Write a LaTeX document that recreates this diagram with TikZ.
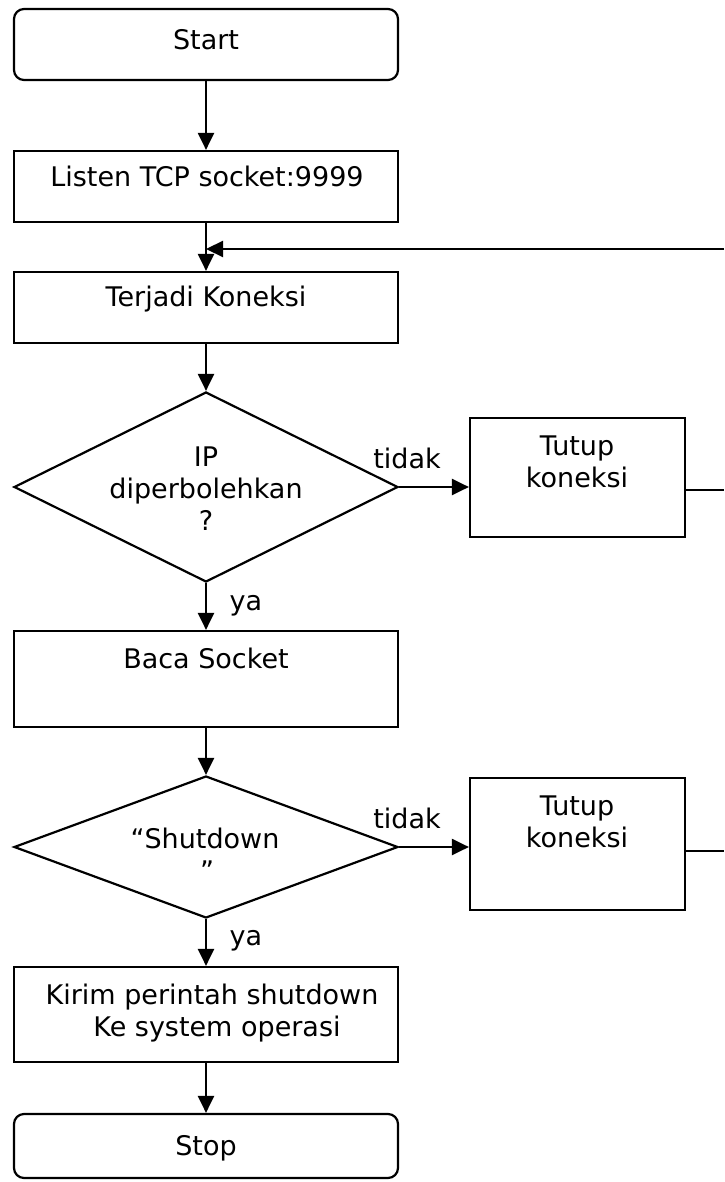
\documentclass[tikz,border=0pt]{standalone}
\usepackage{fontspec}
\setmainfont{DejaVu Sans}
\usetikzlibrary{shapes.geometric,arrows.meta}
\tikzset{
    lab/.style={
        font=\fontsize{27}{32}\selectfont, inner sep=0pt, anchor=base
    }
}

\begin{document}
\begin{tikzpicture}[x=1pt,y=-1pt, line join=miter]

\tikzset{
  main/.style={draw=black, line width=2.2pt},
  flow/.style={main, -{Triangle[length=17pt,width=16pt]}},
  term/.style={main, rectangle, rounded corners=10pt, minimum width=384pt, inner sep=0pt},
  proc/.style={main, rectangle, minimum width=384pt, inner sep=0pt},
  side/.style={main, rectangle, minimum width=215pt, inner sep=0pt},
  dec/.style={main, diamond, minimum width=384pt, inner sep=0pt},
}

\useasboundingbox (0,0) rectangle (724,1182);

% boxes of the main column
\node[term, minimum height=71pt] (start) at (206,44.5) {};
\node[proc, minimum height=71pt] (listen) at (206,186.5) {};
\node[proc, minimum height=71pt] (terjadi) at (206,307.5) {};
\node[dec, minimum height=190pt] (ip) at (206,487) {};
\node[proc, minimum height=96pt] (baca) at (206,679) {};
\node[dec, minimum height=142pt] (shut) at (206,847) {};
\node[proc, minimum height=95pt] (kirim) at (206,1014.5) {};
\node[term, minimum height=64pt] (stop) at (206,1146) {};

% side boxes
\node[side, minimum height=119pt] (tutup1) at (577.5,477.5) {};
\node[side, minimum height=132pt] (tutup2) at (577.5,844) {};

% texts
\node[lab] (start-t) at (206,50) {Start};
\node[lab] (listen-t) at (207,187) {Listen TCP socket:9999};
\node[lab] (terjadi-t) at (206,306) {Terjadi Koneksi};
\node[lab] (ip-t1) at (206,466) {IP};
\node[lab] (ip-t2) at (206,498) {diperbolehkan};
\node[lab] (ip-t3) at (206,530) {?};
\node[lab] (tutup1-t1) at (577,455) {Tutup};
\node[lab] (tutup1-t2) at (577,487) {koneksi};
\node[lab] (baca-t) at (206,668) {Baca Socket};
\node[lab] (shut-t1) at (205,848) {“Shutdown};
\node[lab] (shut-t2) at (207,880) {”};
\node[lab] (tutup2-t1) at (577,815) {Tutup};
\node[lab] (tutup2-t2) at (577,847) {koneksi};
\node[lab] (kirim-t1) at (212,1004) {Kirim perintah shutdown};
\node[lab] (kirim-t2) at (217,1036) {Ke system operasi};
\node[lab] (stop-t) at (206,1155) {Stop};

% branch labels
\node[lab] (tidak1) at (407,468) {tidak};
\node[lab] (tidak2) at (407,828) {tidak};
\node[lab] (ya1) at (246,610) {ya};
\node[lab] (ya2) at (246,945) {ya};

% main flow
\draw[flow] (start) -- (listen);
\draw[flow] (listen) -- (terjadi);
\draw[flow] (terjadi) -- (ip);
\draw[flow] (ip) -- (baca);
\draw[flow] (baca) -- (shut);
\draw[flow] (shut) -- (kirim);
\draw[flow] (kirim) -- (stop);

% tidak branches
\draw[flow] (ip.east) -- (ip.east -| tutup1.west);
\draw[flow] (shut.east) -- (shut.east -| tutup2.west);

% lines back to the loop
\coordinate (back0) at (724,249);
\coordinate (back1) at (724,490);
\coordinate (back2) at (724,851);
\draw[flow] (back0) -- (back0 -| terjadi.north);
\draw[main] (back1 -| tutup1.east) -- (back1);
\draw[main] (back2 -| tutup2.east) -- (back2);

\end{tikzpicture}
\end{document}
